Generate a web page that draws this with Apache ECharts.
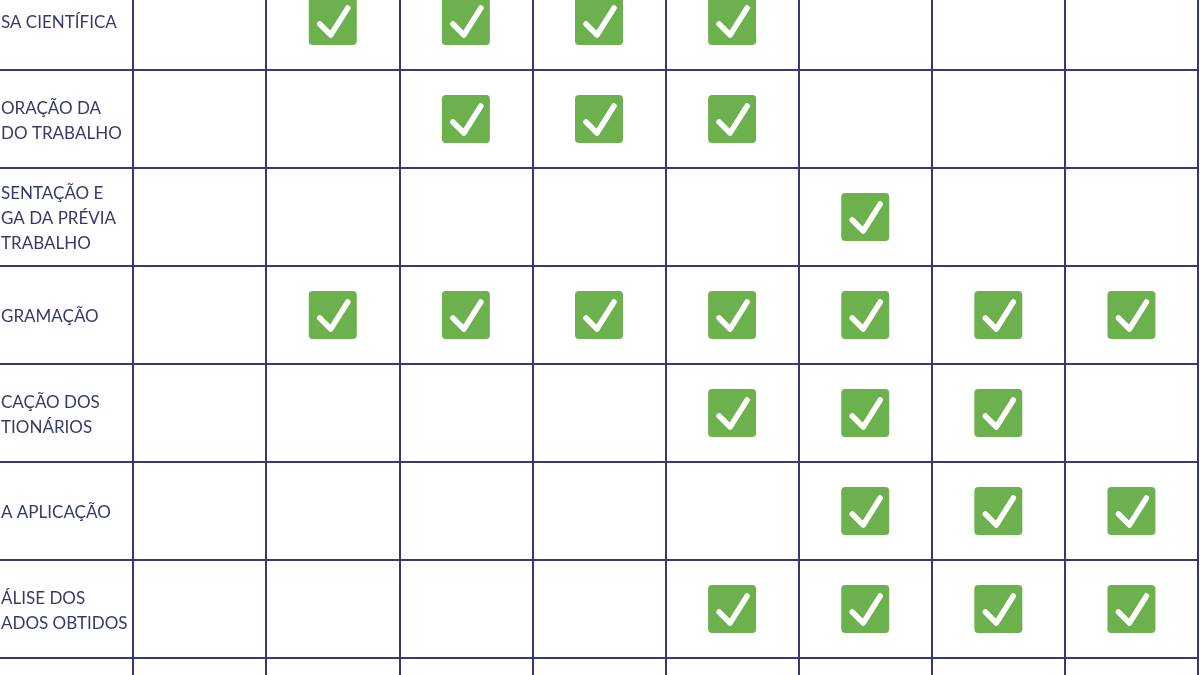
<!DOCTYPE html>
<html lang="pt">
<head>
  <meta charset="UTF-8" />
  <title>Cronograma</title>
  <style>
    * {
      padding: 0;
      margin: 0;
    }

    html,
    body {
      width: 100%;
      height: 100%;
      background: #fff;
    }

    #chart {
      width: 1200px;
      height: 675px;
    }
  </style>
</head>

<body>
  <div id="chart"></div>
  <script src="https://cdn.jsdelivr.net/npm/echarts@6/dist/echarts.min.js"></script>
  <script>
    // visible part of the activity labels (left side of the table is cut off)
    var rowLabels = [
      'SA CIENTÍFICA',
      'ORAÇÃO DA\nDO TRABALHO',
      'SENTAÇÃO E\nGA DA PRÉVIA\nTRABALHO',
      'GRAMAÇÃO',
      'CAÇÃO DOS\nTIONÁRIOS',
      'A APLICAÇÃO',
      'ÁLISE DOS\nADOS OBTIDOS',
      ''
    ]
    // checked period columns (0..7) for each row
    var checkedCols = [
      [1, 2, 3, 4],
      [2, 3, 4],
      [5],
      [1, 2, 3, 4, 5, 6, 7],
      [4, 5, 6],
      [5, 6, 7],
      [4, 5, 6, 7],
      []
    ]
    var periodCount = 8

    var navy = '#353a74'
    var green = '#6cb14d'

    var checkData = []
    checkedCols.forEach(function (cols, row) {
      cols.forEach(function (c) {
        checkData.push([c, row])
      })
    })
    var labelData = rowLabels.map(function (t, i) {
      return [-1, i]
    })

    var chart = echarts.init(document.getElementById('chart'))
    var option = {
      animation: false,
      backgroundColor: '#fff',
      grid: {
        left: 0,
        top: -28,
        width: 1198,
        height: 98 * rowLabels.length,
        outerBoundsMode: 'none',
        containLabel: false
      },
      xAxis: {
        type: 'value',
        min: -1,
        max: periodCount,
        interval: 1,
        axisLine: { show: false },
        axisTick: { show: false },
        axisLabel: { show: false },
        splitLine: {
          show: true,
          showMinLine: false,
          lineStyle: { color: navy, width: 2 }
        }
      },
      yAxis: {
        type: 'value',
        inverse: true,
        min: 0,
        max: rowLabels.length,
        interval: 1,
        axisLine: { show: false },
        axisTick: { show: false },
        axisLabel: { show: false },
        splitLine: {
          show: true,
          lineStyle: { color: navy, width: 2 }
        }
      },
      series: [
        {
          type: 'custom',
          name: 'labels',
          data: labelData,
          silent: true,
          renderItem: function (params, api) {
            var p = api.coord([api.value(0), api.value(1) + 0.5])
            return {
              type: 'text',
              style: {
                text: rowLabels[params.dataIndex],
                x: p[0] + 1,
                y: p[1] + 2,
                align: 'left',
                verticalAlign: 'middle',
                font: '17px Lato',
                lineHeight: 25,
                fill: '#363a6a'
              }
            }
          }
        },
        {
          type: 'custom',
          name: 'checks',
          data: checkData,
          silent: true,
          renderItem: function (params, api) {
            var p = api.coord([api.value(0) + 0.5, api.value(1) + 0.5])
            return {
              type: 'group',
              children: [
                {
                  type: 'rect',
                  shape: { x: p[0] - 24, y: p[1] - 24, width: 48, height: 48, r: 4 },
                  style: { fill: green }
                },
                {
                  type: 'polyline',
                  shape: {
                    points: [[p[0] - 13, p[1] + 3], [p[0] - 2, p[1] + 14], [p[0] + 15, p[1] - 13]]
                  },
                  style: {
                    stroke: '#fff',
                    fill: null,
                    lineWidth: 5.5,
                    lineCap: 'round',
                    lineJoin: 'round'
                  }
                }
              ]
            }
          }
        }
      ]
    }
    chart.setOption(option)
  </script>
</body>

</html>
